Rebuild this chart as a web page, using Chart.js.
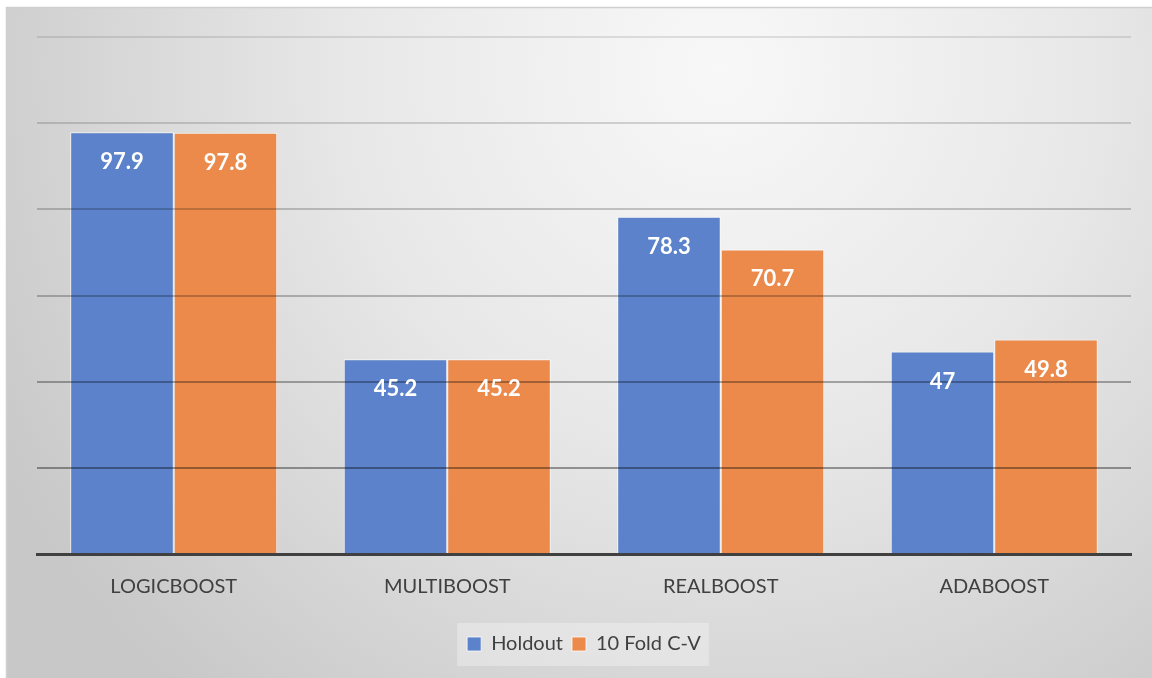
<!DOCTYPE html>
<html>
<head>
<meta charset="utf-8">
<script src="https://cdn.jsdelivr.net/npm/chart.js@4.4.1/dist/chart.umd.min.js"></script>
<style>
  html, body { margin: 0; padding: 0; background: #ffffff; }
  #wrap { position: relative; width: 1152px; height: 678px; }
</style>
</head>
<body>
<div id="wrap"><canvas id="chart" width="1152" height="678"></canvas></div>
<script>
// Boosting methods and their accuracy under two evaluation schemes
const categories = ['LOGICBOOST', 'MULTIBOOST', 'REALBOOST', 'ADABOOST'];
const holdout = [97.9, 45.2, 78.3, 47];
const tenFoldCV = [97.8, 45.2, 70.7, 49.8];
const seriesNames = ['Holdout', '10 Fold C-V'];
const yTicks = [0, 20, 40, 60, 80, 100, 120];

const FONT = 'Lato, "Open Sans", "Liberation Sans", sans-serif';
const TEXT = '#404040';

// grid lines get darker towards the baseline
const gridAlpha = { 20: 0.37, 40: 0.31, 60: 0.24, 80: 0.2, 100: 0.15, 120: 0.1 };

// panel with a soft radial shading and a legend plate
const panelPlugin = {
  id: 'panel',
  beforeDraw(chart) {
    const { ctx, width, height } = chart;
    ctx.save();
    ctx.fillStyle = '#ffffff';
    ctx.fillRect(0, 0, width, height);
    const g = ctx.createRadialGradient(720, 70, 0, 720, 70, 820);
    g.addColorStop(0, '#f8f8f8');
    g.addColorStop(0.45, '#e8e8e8');
    g.addColorStop(1, '#c8c8c8');
    ctx.fillStyle = g;
    ctx.fillRect(6, 7, width - 6, height - 7);
    ctx.strokeStyle = '#cfcfcf';
    ctx.lineWidth = 1.5;
    ctx.beginPath();
    ctx.moveTo(6.5, height);
    ctx.lineTo(6.5, 7.5);
    ctx.lineTo(width, 7.5);
    ctx.stroke();

    const lg = chart.legend;
    if (lg && lg.legendHitBoxes && lg.legendHitBoxes.length) {
      const boxes = lg.legendHitBoxes;
      const first = boxes[0], last = boxes[boxes.length - 1];
      const cy = first.top + first.height / 2;
      ctx.fillStyle = 'rgba(255,255,255,0.3)';
      ctx.fillRect(first.left - 10, cy - 21, last.left + last.width - first.left + 18, 43);
    }
    ctx.restore();
  }
};

// value written inside the top of each bar
const valueLabels = {
  id: 'valueLabels',
  afterDraw(chart) {
    const { ctx } = chart;
    ctx.save();
    ctx.fillStyle = '#ffffff';
    ctx.font = 'bold 22px ' + FONT;
    ctx.textAlign = 'center';
    ctx.textBaseline = 'middle';
    chart.data.datasets.forEach((ds, i) => {
      chart.getDatasetMeta(i).data.forEach((bar, j) => {
        ctx.fillText(String(ds.data[j]), bar.x, bar.y + 30);
      });
    });
    ctx.restore();
  }
};

new Chart(document.getElementById('chart'), {
  type: 'bar',
  data: {
    labels: categories,
    datasets: [
      {
        label: seriesNames[0],
        data: holdout,
        backgroundColor: '#5b82ca',
        borderColor: 'rgba(255,255,255,0.75)',
        borderWidth: 1
      },
      {
        label: seriesNames[1],
        data: tenFoldCV,
        backgroundColor: '#eb8a4a',
        borderColor: 'rgba(255,255,255,0.75)',
        borderWidth: 1
      }
    ]
  },
  options: {
    responsive: false,
    animation: false,
    devicePixelRatio: 1,
    layout: { padding: { left: 37, right: 21, top: 37, bottom: 14 } },
    datasets: { bar: { categoryPercentage: 0.757, barPercentage: 1 } },
    scales: {
      x: {
        grid: { display: false, drawTicks: false },
        border: { display: true, color: '#404040', width: 3, z: 2 },
        ticks: { color: TEXT, font: { family: FONT, size: 20 }, padding: 21 },
        afterFit(s) { s.height = 71; }
      },
      y: {
        min: 0,
        max: 120,
        afterBuildTicks(s) { s.ticks = yTicks.map(v => ({ value: v })); },
        afterFit(s) { s.width = 0; },
        ticks: { display: false },
        border: { display: false },
        grid: {
          z: 1,
          drawTicks: false,
          lineWidth: 2,
          color(c) {
            const a = gridAlpha[c.tick && c.tick.value];
            return a ? 'rgba(0,0,0,' + a + ')' : 'rgba(0,0,0,0)';
          }
        }
      }
    },
    plugins: {
      legend: {
        position: 'bottom',
        labels: {
          boxWidth: 14,
          boxHeight: 14,
          padding: 9,
          color: TEXT,
          font: { family: FONT, size: 20 }
        }
      },
      tooltip: { enabled: false }
    }
  },
  plugins: [panelPlugin, valueLabels]
});
</script>
</body>
</html>
